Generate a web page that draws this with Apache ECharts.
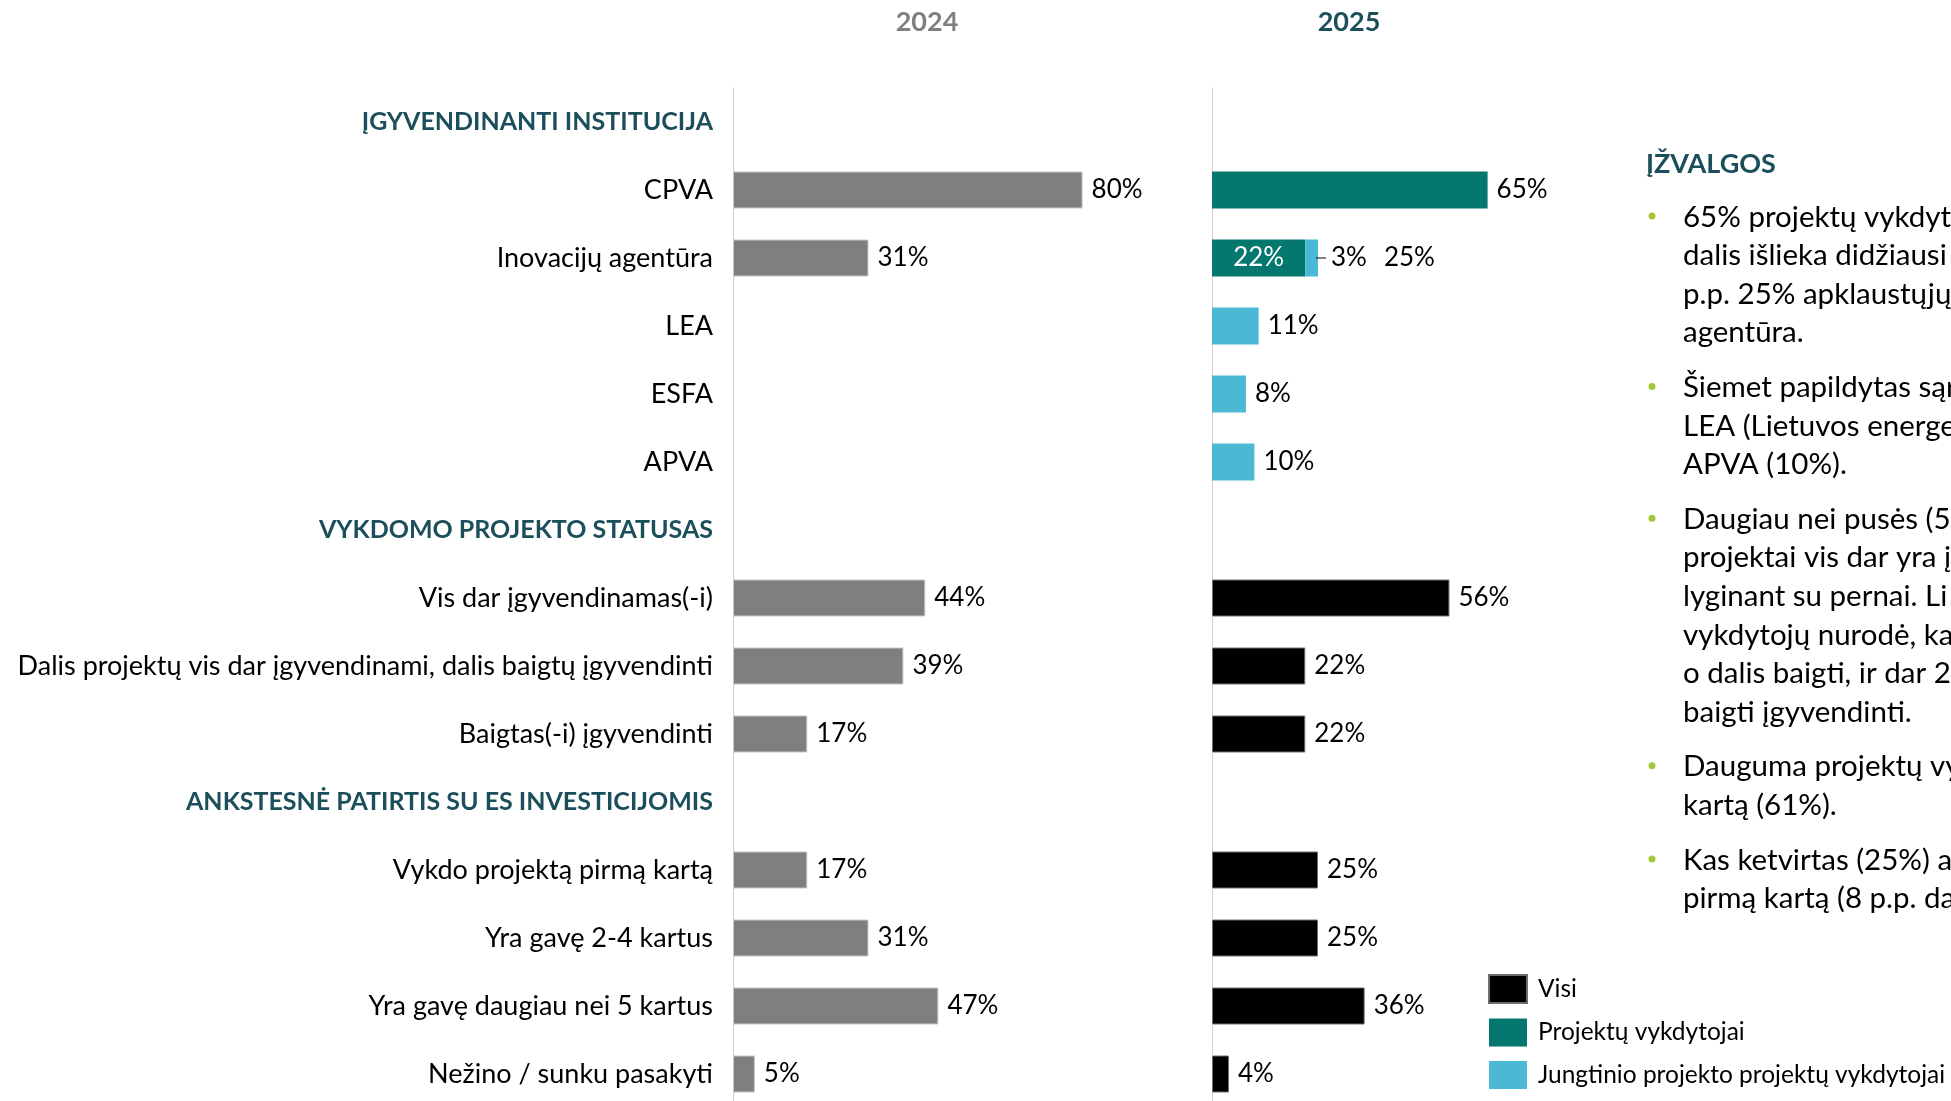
<!DOCTYPE html>
<html>
<head>
<meta charset="utf-8">
<script src="https://cdn.jsdelivr.net/npm/echarts@6/dist/echarts.min.js"></script>
<style>
  html, body { margin: 0; padding: 0; background: #fff; }
  #chart { width: 1951px; height: 1101px; }
</style>
</head>
<body>
<div id="chart"></div>
<script>
// eilutės iš viršaus į apačią (antraštės be reikšmių)
var categories = [
  'ĮGYVENDINANTI INSTITUCIJA',
  'CPVA',
  'Inovacijų agentūra',
  'LEA',
  'ESFA',
  'APVA',
  'VYKDOMO PROJEKTO STATUSAS',
  'Vis dar įgyvendinamas(-i)',
  'Dalis projektų vis dar įgyvendinami, dalis baigtų įgyvendinti',
  'Baigtas(-i) įgyvendinti',
  'ANKSTESNĖ PATIRTIS SU ES INVESTICIJOMIS',
  'Vykdo projektą pirmą kartą',
  'Yra gavę 2-4 kartus',
  'Yra gavę daugiau nei 5 kartus',
  'Nežino / sunku pasakyti'
];
var headings = ['ĮGYVENDINANTI INSTITUCIJA', 'VYKDOMO PROJEKTO STATUSAS', 'ANKSTESNĖ PATIRTIS SU ES INVESTICIJOMIS'];

// 2024 m.
var values2024 = [null, 80, 31, null, null, null, null, 44, 39, 17, null, 17, 31, 47, 5];
// 2025 m.
var visi2025 = [null, null, null, null, null, null, null, 56, 22, 22, null, 25, 25, 36, 4];
var vykdytojai2025 = [null, 65, 22, null, null, null, null, null, null, null, null, null, null, null, null];
var jungtinio2025 = [null, null, 3, 11, 8, 10, null, null, null, null, null, null, null, null, null];

var years = ['2024', '2025'];
var seriesNames = ['Visi', 'Projektų vykdytojai', 'Jungtinio projekto projektų vykdytojai'];

var insightTitle = 'ĮŽVALGOS';
var insights = [
  ['65% projektų vykdyto', 'dalis išlieka didžiausi', 'p.p. 25% apklaustųjų', 'agentūra.'],
  ['Šiemet papildytas sąr', 'LEA (Lietuvos energe', 'APVA (10%).'],
  ['Daugiau nei pusės (5', 'projektai vis dar yra į', 'lyginant su pernai. Li', 'vykdytojų nurodė, ka', 'o dalis baigti, ir dar 2', 'baigti įgyvendinti.'],
  ['Dauguma projektų vy', 'kartą (61%).'],
  ['Kas ketvirtas (25%) a', 'pirmą kartą (8 p.p. da']
];

var FONT = 'Lato';
var DARK = '#1b4f5b';
var GREY = '#7f7f7f';
var TEAL = '#04776f';
var LIGHT = '#4bb8d5';

var chart = echarts.init(document.getElementById('chart'));

var pct = function (p) { return p.value + '%'; };

var graphics = [
  { type: 'text', x: 927, y: 22, style: { text: years[0], fontFamily: FONT, fontSize: 27, fontWeight: 'bold', fill: GREY, align: 'center', verticalAlign: 'middle' } },
  { type: 'text', x: 1349, y: 22, style: { text: years[1], fontFamily: FONT, fontSize: 27, fontWeight: 'bold', fill: DARK, align: 'center', verticalAlign: 'middle' } },
  { type: 'text', x: 1646, y: 164, style: { text: insightTitle, fontFamily: FONT, fontSize: 27, fontWeight: 'bold', fill: DARK, verticalAlign: 'middle' } }
];
var y = 217;
insights.forEach(function (para) {
  graphics.push({ type: 'circle', shape: { cx: 1652, cy: y - 1, r: 3.5 }, style: { fill: '#a2c83a' } });
  para.forEach(function (line) {
    graphics.push({ type: 'text', x: 1683, y: y, style: { text: line, fontFamily: FONT, fontSize: 29.5, fill: '#000', verticalAlign: 'middle' } });
    y += 38.6;
  });
  y += 16;
});

chart.setOption({
  animation: false,
  textStyle: { fontFamily: FONT },
  grid: [
    { left: 733, top: 88, width: 437, height: 1020, outerBoundsMode: 'none' },
    { left: 1212, top: 88, width: 424, height: 1020, outerBoundsMode: 'none' }
  ],
  xAxis: [
    { gridIndex: 0, type: 'value', min: 0, max: 100, show: false },
    { gridIndex: 1, type: 'value', min: 0, max: 100, show: false }
  ],
  yAxis: [
    {
      gridIndex: 0, type: 'category', data: categories, inverse: true,
      axisTick: { show: false },
      axisLine: { lineStyle: { color: '#d0d0d0', width: 1 } },
      axisLabel: {
        margin: 20, fontFamily: FONT, fontSize: 27, color: '#000',
        formatter: function (v) {
          return headings.indexOf(v) >= 0 ? '{h|' + v + '}' : v;
        },
        rich: { h: { fontFamily: FONT, fontSize: 25, fontWeight: 'bold', color: DARK } }
      }
    },
    {
      gridIndex: 1, type: 'category', data: categories, inverse: true,
      axisTick: { show: false },
      axisLabel: { show: false },
      axisLine: { lineStyle: { color: '#d0d0d0', width: 1 } }
    }
  ],
  legend: {
    orient: 'vertical', left: 1488, top: 974, padding: 0,
    itemWidth: 38, itemHeight: 28, itemGap: 14.5, icon: 'rect',
    data: seriesNames,
    textStyle: { fontFamily: FONT, fontSize: 24.5, color: '#000', padding: [0, 0, 0, 6] }
  },
  graphic: graphics,
  series: [
    {
      name: years[0], type: 'bar', xAxisIndex: 0, yAxisIndex: 0,
      data: values2024, barWidth: 37,
      itemStyle: { color: GREY, borderColor: '#c8c8c8', borderWidth: 1 },
      label: { show: true, position: 'right', distance: 9, fontFamily: FONT, fontSize: 26, color: '#000', formatter: pct }
    },
    {
      name: seriesNames[0], type: 'bar', xAxisIndex: 1, yAxisIndex: 1, stack: 'y2025',
      data: visi2025, barWidth: 37,
      itemStyle: { color: '#000', borderColor: '#6e6e6e', borderWidth: 1 },
      label: { show: true, position: 'right', distance: 9, fontFamily: FONT, fontSize: 26, color: '#000', formatter: pct }
    },
    {
      name: seriesNames[1], type: 'bar', xAxisIndex: 1, yAxisIndex: 1, stack: 'y2025',
      barWidth: 37,
      data: vykdytojai2025.map(function (v, i) {
        if (v != null && jungtinio2025[i] != null) {
          return { value: v, label: { position: 'inside', color: '#fff' } };
        }
        return v;
      }),
      itemStyle: { color: TEAL },
      label: { show: true, position: 'right', distance: 9, fontFamily: FONT, fontSize: 26, color: '#000', formatter: pct }
    },
    {
      name: seriesNames[2], type: 'bar', xAxisIndex: 1, yAxisIndex: 1, stack: 'y2025',
      barWidth: 37,
      // the row shared with the teal bar gets a leader line and the total
      data: jungtinio2025.map(function (v, i) {
        if (v != null && vykdytojai2025[i] != null) {
          return { value: v, label: { distance: -2 } };
        }
        return v;
      }),
      itemStyle: { color: LIGHT },
      label: {
        show: true, position: 'right', distance: 9, fontFamily: FONT, fontSize: 26, color: '#000',
        formatter: function (p) {
          var other = vykdytojai2025[p.dataIndex];
          if (other != null) {
            return '{l|}{v|' + p.value + '%}{g|}{v|' + (p.value + other) + '%}';
          }
          return p.value + '%';
        },
        rich: {
          l: { width: 10, height: 1, backgroundColor: '#000' },
          v: { fontFamily: FONT, fontSize: 26, color: '#000', padding: [0, 0, 0, 5] },
          g: { width: 12 }
        }
      }
    }
  ]
});
</script>
</body>
</html>
